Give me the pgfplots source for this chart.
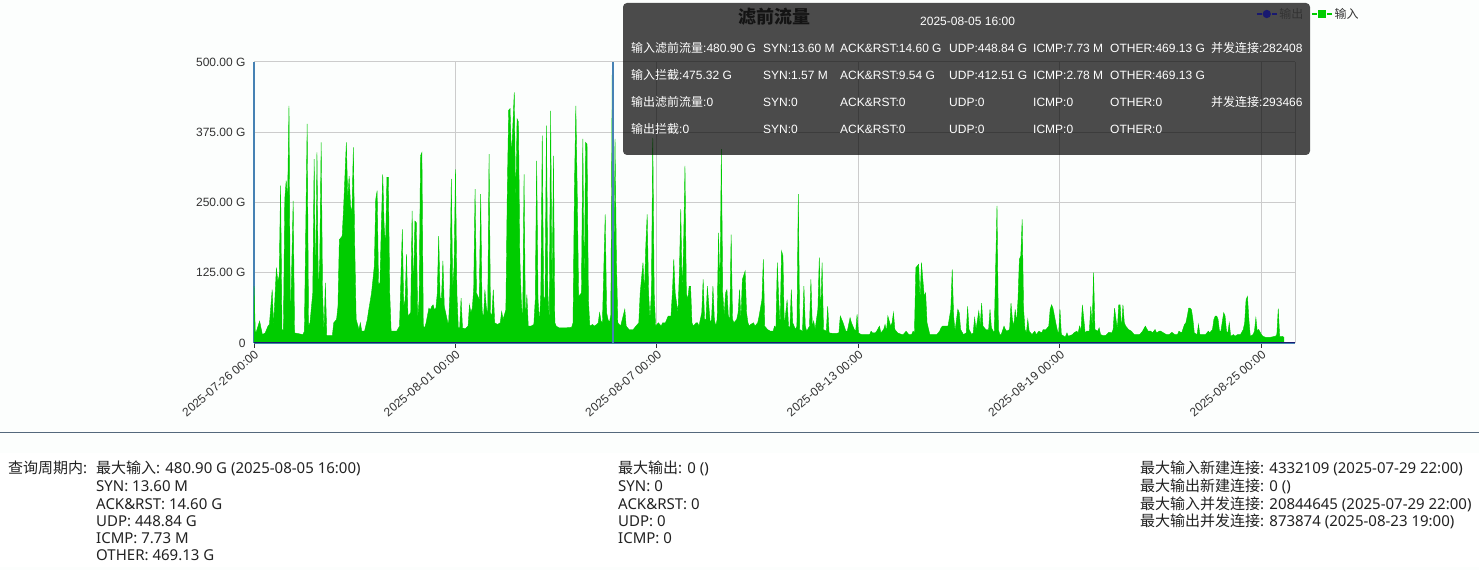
\documentclass[border=0pt]{standalone}
\usepackage{pgfplots}
\usepackage{pgfplotstable}
\pgfplotsset{compat=1.18}
\usepackage{fontspec}
\setmainfont{Liberation Sans}
\newfontfamily\cjk{Noto Sans CJK SC}
\newfontfamily\notos{Noto Sans}
\definecolor{gr}{RGB}{0,204,0}
\definecolor{nv}{RGB}{25,25,112}
\definecolor{steel}{RGB}{70,130,180}
\definecolor{gridc}{RGB}{204,204,204}
\definecolor{tk}{RGB}{51,51,51}
\definecolor{bgc}{RGB}{252,254,253}
\definecolor{sepc}{RGB}{84,104,124}
\definecolor{btc}{RGB}{34,34,34}
\definecolor{ttl}{RGB}{20,20,20}

\pgfplotstableread{
h v
0 101
1 15
4 39
6 15
8 18
10 30
11 33
13 95
14 30
16 134
17 110
18 119
19 280
20 24
21 24
22 256
23 289
24 256
25 422
26 30
28 253
29 18
35 15
36 21
38 390
39 30
40 36
42 89
43 327
44 89
45 339
46 89
47 150
48 357
49 89
50 18
51 107
52 13
56 13
57 36
59 42
60 65
61 184
63 190
64 238
66 357
67 256
68 297
69 244
70 232
71 348
72 173
73 42
75 24
76 36
77 21
79 21
81 42
82 59
84 89
86 137
87 256
88 271
89 104
90 107
91 208
92 300
93 208
94 173
95 295
96 295
97 89
98 21
102 21
104 30
106 202
107 65
108 77
109 158
110 48
112 54
113 235
114 89
115 217
116 214
117 42
118 77
119 333
120 339
121 30
122 27
123 36
125 62
126 59
127 65
128 68
129 59
130 62
131 89
132 190
133 80
134 80
135 146
136 65
138 42
139 30
140 89
141 292
142 95
143 137
144 309
145 89
146 27
147 27
148 80
149 27
151 25
153 30
154 68
155 54
156 62
157 95
158 274
159 89
160 83
161 77
162 265
163 59
164 42
165 95
166 65
167 48
168 336
169 54
170 48
171 95
172 36
174 33
176 36
177 56
178 42
180 59
181 267
182 414
183 417
184 330
185 387
186 446
187 244
188 399
189 393
190 149
191 77
192 36
193 300
194 33
195 86
196 30
198 30
200 33
201 77
202 324
203 77
204 36
205 89
206 369
207 83
208 77
209 387
210 89
211 42
212 413
213 77
214 333
215 36
216 30
218 27
221 27
223 27
227 28
228 36
229 274
230 422
231 268
232 83
234 89
235 363
236 89
237 357
238 354
239 77
240 30
242 33
243 30
245 33
246 36
247 54
248 39
249 36
251 229
252 54
253 42
254 36
255 50
256 480.9
257 60
258 363
259 149
260 36
262 30
265 60
266 30
268 24
271 24
273 30
275 36
276 89
278 143
279 89
280 173
281 229
282 89
283 42
284 89
285 365
286 89
287 30
289 36
291 30
292 36
294 36
296 48
298 48
299 89
300 149
301 89
303 54
304 125
305 238
306 89
307 173
308 315
309 89
310 77
311 101
312 101
313 36
314 30
316 36
317 36
318 30
320 54
321 113
322 42
323 42
324 101
326 36
327 42
328 101
329 42
330 30
331 42
332 196
333 89
334 345
335 89
336 48
337 89
338 95
339 48
340 42
341 193
342 42
343 36
345 42
346 54
347 95
348 42
349 113
351 128
352 54
353 36
354 30
355 33
357 36
358 30
360 36
361 48
363 77
364 149
365 30
367 24
369 21
371 21
372 30
373 27
374 143
375 77
376 30
377 164
378 155
379 30
381 77
382 30
383 27
384 95
385 36
387 24
388 30
389 265
390 24
392 21
393 101
394 30
395 21
397 30
398 113
399 30
400 39
401 24
403 60
404 152
405 48
406 143
407 24
409 21
410 65
411 18
414 17
416 17
418 18
419 48
421 36
423 21
424 21
426 45
427 36
429 24
430 21
431 51
432 18
434 15
438 15
440 15
441 21
442 18
444 18
445 21
447 30
448 18
450 24
451 33
452 21
453 48
455 30
456 36
457 54
458 24
460 18
463 15
464 15
466 21
468 15
470 15
471 21
472 18
473 134
475 140
476 77
477 143
479 83
480 89
481 36
483 15
485 15
488 15
490 21
491 27
492 30
495 30
496 30
498 60
499 131
500 48
501 21
503 60
504 54
505 24
507 15
509 18
510 65
511 24
513 15
514 18
515 45
516 24
518 57
519 30
520 71
521 30
523 24
525 24
526 60
527 27
529 18
531 244
532 24
533 15
534 15
536 30
537 24
538 21
540 24
541 71
542 42
543 30
544 60
545 36
546 77
547 149
548 155
549 220
550 60
551 24
552 18
553 42
554 21
556 15
558 21
559 15
561 21
563 18
564 24
566 24
568 30
569 60
570 68
571 62
573 36
574 24
575 15
576 60
577 15
579 12
580 12
581 18
582 12
585 15
586 18
588 21
589 18
590 30
591 21
592 68
594 18
595 21
597 21
598 65
599 30
600 125
601 24
603 21
604 27
605 15
607 13
609 14
611 19
613 18
614 24
615 62
617 24
618 68
619 68
620 24
621 68
622 36
623 30
625 24
627 21
629 15
631 15
633 15
635 21
637 30
639 21
641 21
642 18
644 24
645 18
647 21
648 21
650 18
652 15
654 15
656 19
658 15
660 15
661 21
663 18
665 33
666 36
667 48
668 62
669 62
670 59
671 42
672 18
674 15
675 33
676 15
678 15
680 15
682 21
683 18
685 24
686 42
687 48
688 48
689 42
690 21
691 21
693 54
694 48
695 21
696 18
697 36
698 12
700 15
701 12
703 15
705 15
707 24
708 36
709 77
710 83
711 42
712 12
714 15
715 21
716 45
717 21
718 24
720 15
721 12
723 10
726 10
728 11
730 12
731 15
732 61
733 12
735 12
736 10
}\inflow

\newcommand\zh[1]{{\cjk #1}}
\newcommand\tip[3]{\node[anchor=base west,inner sep=0pt,text=white,font=\fontsize{12}{14}\selectfont] at (#1pt,#2pt) {#3};}
\newcommand\bt[3]{\node[anchor=base west,inner sep=0pt,text=btc,font=\notos\fontsize{15}{18}\selectfont] at (#1pt,#2pt) {#3};}

\begin{document}
\begin{tikzpicture}
\fill[bgc] (0pt,0pt) rectangle (1479pt,570pt);
\useasboundingbox (0pt,0pt) rectangle (1479pt,570pt);
\fill[white] (0pt,3pt) rectangle (1479pt,117pt);

\begin{axis}[
  at={(254pt,227pt)}, anchor=south west, scale only axis,
  width=1041pt, height=281pt,
  xmin=0, xmax=744, ymin=0, ymax=500,
  axis x line*=bottom, axis y line*=left,
  axis line style={-, draw=steel, line width=2pt},
  xtick={0,144,288,432,576,720},
  xticklabels={2025-07-26 00:00,2025-08-01 00:00,2025-08-07 00:00,2025-08-13 00:00,2025-08-19 00:00,2025-08-25 00:00},
  ytick={0,125,250,375,500},
  yticklabels={0,125.00 G,250.00 G,375.00 G,500.00 G},
  grid=major, grid style={draw=gridc, line width=1pt},
  tick align=outside, major tick length=5pt,
  xtick style={draw=tk, line width=1pt},
  ytick style={draw=none},
  tick label style={font=\fontsize{12}{14}\selectfont, text=tk},
  xticklabel style={rotate=40, anchor=north east, inner sep=1pt},
  clip=false,
]
\addplot[draw=gr, line width=0.4pt, fill=gr] table[x=h,y=v]{\inflow} \closedcycle;
\addplot[nv, line width=1pt] coordinates {(0,0) (744,0)};
\draw[gridc, line width=1pt] (rel axis cs:1,0) -- (rel axis cs:1,1);
\draw[steel, line width=2pt] (axis cs:256.4,0) -- (axis cs:256.4,500);
\end{axis}

% tooltip
\fill[black, fill opacity=0.7, rounded corners=4pt] (623pt,415pt) rectangle (1310pt,567pt);
\node[anchor=base west,inner sep=0pt,text=ttl,font=\cjk\bfseries\fontsize{18}{20}\selectfont] at (738pt,546pt) {滤前流量};
\tip{920}{544.5}{2025-08-05 16:00}
\tip{631}{517.5}{\zh{输入滤前流量}:480.90 G}
\tip{763}{517.5}{SYN:13.60 M}
\tip{840}{517.5}{ACK\&RST:14.60 G}
\tip{949}{517.5}{UDP:448.84 G}
\tip{1033}{517.5}{ICMP:7.73 M}
\tip{1110}{517.5}{OTHER:469.13 G}
\tip{1211}{517.5}{\zh{并发连接}:282408}
\tip{631}{490.5}{\zh{输入拦截}:475.32 G}
\tip{763}{490.5}{SYN:1.57 M}
\tip{840}{490.5}{ACK\&RST:9.54 G}
\tip{949}{490.5}{UDP:412.51 G}
\tip{1033}{490.5}{ICMP:2.78 M}
\tip{1110}{490.5}{OTHER:469.13 G}
\tip{631}{463.5}{\zh{输出滤前流量}:0}
\tip{763}{463.5}{SYN:0}
\tip{840}{463.5}{ACK\&RST:0}
\tip{949}{463.5}{UDP:0}
\tip{1033}{463.5}{ICMP:0}
\tip{1110}{463.5}{OTHER:0}
\tip{1211}{463.5}{\zh{并发连接}:293466}
\tip{631}{436.5}{\zh{输出拦截}:0}
\tip{763}{436.5}{SYN:0}
\tip{840}{436.5}{ACK\&RST:0}
\tip{949}{436.5}{UDP:0}
\tip{1033}{436.5}{ICMP:0}
\tip{1110}{436.5}{OTHER:0}

% legend axis
\begin{axis}[
  at={(254pt,227pt)}, anchor=south west, scale only axis,
  width=1041pt, height=281pt,
  hide axis, xmin=0, xmax=1, ymin=0, ymax=1,
  legend style={at={(0.9625,1.1708)}, anchor=west, draw=none, fill=none, inner sep=0pt,
    font=\fontsize{12}{14}\selectfont, text=tk, legend columns=2,
    /tikz/every even column/.append style={column sep=6pt}},
  legend cell align=left,
  legend image code/.code={
    \draw[#1, mark=none, dash pattern=on 5pt off 10pt] (0pt,0pt) -- (20pt,0pt);
    \draw[#1, solid] plot[only marks] coordinates {(10pt,0pt)};
  },
]
\addlegendimage{nv, line width=1.2pt, mark=*, mark size=3.5pt}
\addlegendentry{\cjk 输出}
\addlegendimage{gr, line width=1.2pt, mark=square*, mark size=3.5pt}
\addlegendentry{\cjk 输入}
\end{axis}

% separator and summary
\draw[sepc, line width=1pt] (0pt,137pt) -- (1479pt,137pt);
\bt{8}{96}{\zh{查询周期内}:}
\bt{96}{96}{\zh{最大输入}: 480.90 G (2025-08-05 16:00)}
\bt{96}{78}{SYN: 13.60 M}
\bt{96}{61}{ACK\&RST: 14.60 G}
\bt{96}{44}{UDP: 448.84 G}
\bt{96}{27}{ICMP: 7.73 M}
\bt{96}{10}{OTHER: 469.13 G}
\bt{618}{96}{\zh{最大输出}: 0 ()}
\bt{618}{78}{SYN: 0}
\bt{618}{61}{ACK\&RST: 0}
\bt{618}{44}{UDP: 0}
\bt{618}{27}{ICMP: 0}
\bt{1140}{96}{\zh{最大输入新建连接}: 4332109 (2025-07-29 22:00)}
\bt{1140}{78}{\zh{最大输出新建连接}: 0 ()}
\bt{1140}{61}{\zh{最大输入并发连接}: 20844645 (2025-07-29 22:00)}
\bt{1140}{44}{\zh{最大输出并发连接}: 873874 (2025-08-23 19:00)}
\end{tikzpicture}
\end{document}
